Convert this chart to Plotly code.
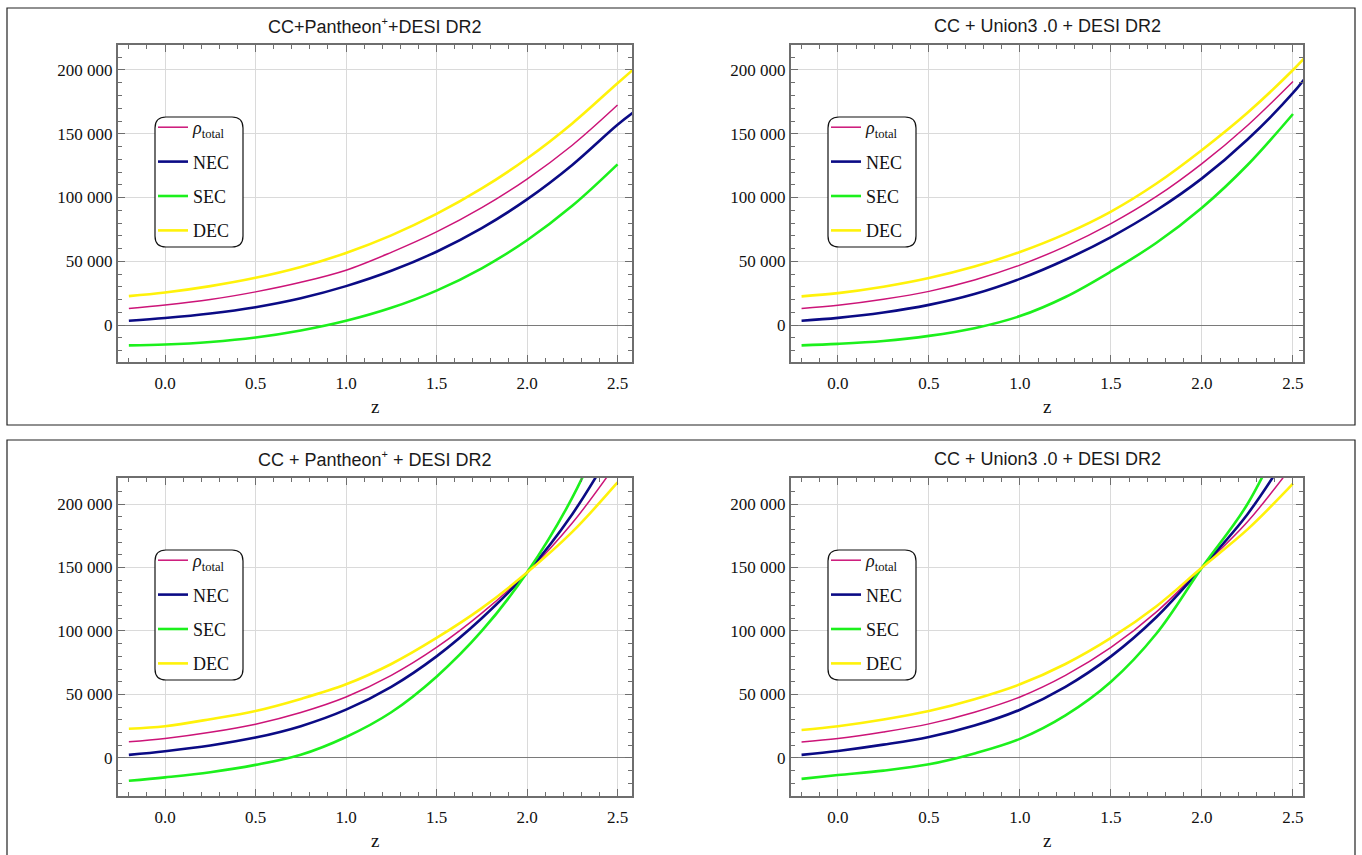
import plotly.graph_objects as go

W, H = 1362, 855

# ---------------- data ----------------
z_std = [-0.2, 0.0, 0.25, 0.5, 0.75, 1.0, 1.25, 1.5, 1.75, 2.0, 2.25, 2.5]
z_ext = [-0.2, 0.0, 0.25, 0.5, 0.75, 1.0, 1.25, 1.5, 1.75, 2.0, 2.25, 2.5, 2.6]

# Panel 1: CC+Pantheon+ +DESI DR2 (top)
p1_rho = [13000, 15700, 20000, 26000, 33500, 43000, 57000, 73000, 92000, 114500, 141000, 172500]
p1_nec = [3400, 5500, 9000, 14000, 21000, 30500, 42500, 57500, 76000, 98500, 125500, 157000, 168000]
p1_sec = [-16000, -15300, -13300, -9800, -4300, 3300, 13500, 27000, 44500, 66500, 93500, 126000]
p1_dec = [22700, 25500, 30500, 37000, 45500, 56500, 70300, 87100, 107100, 130600, 158100, 189600, 202000]

# Panel 2: CC + Union3.0 + DESI DR2 (top)
p2_rho = [13000, 15500, 20200, 26400, 35300, 47000, 61700, 79500, 100800, 126600, 156500, 191000]
p2_nec = [3400, 5600, 9800, 15800, 24300, 36200, 51200, 69000, 90000, 115000, 145500, 182000, 200000]
p2_sec = [-16000, -14800, -12500, -8500, -2500, 7000, 22000, 42000, 64500, 92000, 125500, 165500]
p2_dec = [22500, 25000, 30000, 36800, 45800, 57300, 71500, 89000, 111000, 137300, 166500, 200000, 215000]

# Panel 3: CC+Pantheon+ +DESI DR2 (bottom)
p3_rho = [12700, 15300, 20200, 26600, 35800, 48000, 65000, 87000, 114000, 146000, 185000, 233000]
p3_nec = [2400, 5300, 9800, 16000, 25000, 38000, 56000, 80000, 110000, 146000, 192000, 250000]
p3_sec = [-18000, -15300, -11300, -5500, 2500, 16500, 36000, 64000, 100000, 146000, 205000, 283000]
p3_dec = [23000, 25000, 30500, 37000, 46500, 58000, 74000, 94500, 118000, 146000, 178000, 217000]

# Panel 4: CC + Union3.0 + DESI DR2 (bottom)
p4_rho = [12600, 15300, 20400, 26800, 36000, 48000, 65000, 87000, 115000, 150000, 186000, 231000]
p4_nec = [2400, 5500, 10500, 16500, 25500, 38000, 56000, 80000, 111000, 150000, 192000, 246000]
p4_sec = [-16500, -13500, -10000, -5000, 3500, 15000, 33500, 60000, 98000, 150000, 200000, 272000]
p4_dec = [22000, 25000, 30300, 37000, 46300, 58000, 74000, 94500, 119500, 150000, 180000, 216000]

SUP = "<sup><span style='font-size:11px'>+</span></sup>"
titles = ["CC+Pantheon" + SUP + "+DESI DR2", "CC + Union3 .0 + DESI DR2",
          "CC + Pantheon" + SUP + " + DESI DR2", "CC + Union3 .0 + DESI DR2"]
names = ["<i>ρ</i><sub>total</sub>", "NEC", "SEC", "DEC"]
colors = ["#CC1478", "#0B0B85", "#1CF01C", "#FFF20A"]
widths = [1.5, 2.6, 2.6, 2.6]

y_tickvals = [0, 50000, 100000, 150000, 200000]
y_ticktext = ["0", "50 000", "100 000", "150 000", "200 000"]
x_tickvals = [0.0, 0.5, 1.0, 1.5, 2.0, 2.5]
x_ticktext = ["0.0", "0.5", "1.0", "1.5", "2.0", "2.5"]

panels = [
    [(z_std, p1_rho), (z_ext, p1_nec), (z_std, p1_sec), (z_ext, p1_dec)],
    [(z_std, p2_rho), (z_ext, p2_nec), (z_std, p2_sec), (z_ext, p2_dec)],
    [(z_std, p3_rho), (z_std, p3_nec), (z_std, p3_sec), (z_std, p3_dec)],
    [(z_std, p4_rho), (z_std, p4_nec), (z_std, p4_sec), (z_std, p4_dec)],
]

# ---------------- layout geometry (pixels) ----------------
frames = [(118, 632, 45, 362), (791, 1303, 45, 362),
          (118, 632, 478, 796), (791, 1303, 478, 796)]
xranges = [[-0.26, 2.58], [-0.258, 2.555], [-0.26, 2.58], [-0.258, 2.555]]
yranges = [[-29000, 219600], [-29000, 219600], [-30000, 220500], [-30000, 220500]]


def px(x):
    return x / W


def py(y):
    return 1 - y / H


fig = go.Figure()

frame_col = "#6E6E6E"
serif = "Liberation Serif"
sans = "Liberation Sans"

for i, series in enumerate(panels):
    k = i + 1
    xa = "x" if k == 1 else f"x{k}"
    ya = "y" if k == 1 else f"y{k}"
    lg = "legend" if k == 1 else f"legend{k}"
    for j, (zz, vv) in enumerate(series):
        fig.add_trace(go.Scatter(
            x=zz, y=vv, mode="lines", name=names[j],
            line=dict(color=colors[j], width=widths[j], shape="spline", smoothing=1.0),
            xaxis=xa, yaxis=ya, legend=lg, legendgroup=f"g{k}{j}",
            showlegend=True, hoverinfo="skip"))

    L, R, T, B = frames[i]
    axname_x = "xaxis" if k == 1 else f"xaxis{k}"
    axname_y = "yaxis" if k == 1 else f"yaxis{k}"
    fig.layout[axname_x] = dict(
        domain=[px(L), px(R)], range=xranges[i], anchor=ya,
        showline=True, linecolor=frame_col, linewidth=2, mirror="allticks",
        ticks="inside", ticklen=7, tickwidth=1, tickcolor=frame_col,
        tickvals=x_tickvals, ticktext=x_ticktext, ticklabelstandoff=5,
        minor=dict(ticks="inside", ticklen=4, dtick=0.1, tick0=0, tickcolor=frame_col, showgrid=False),
        showgrid=True, gridcolor="#DADADA", gridwidth=1, zeroline=False,
        tickfont=dict(family=serif, size=17, color="#111"),
        fixedrange=True)
    fig.layout[axname_y] = dict(
        domain=[py(B), py(T)], range=yranges[i], anchor=xa,
        showline=True, linecolor=frame_col, linewidth=2, mirror="allticks",
        ticks="inside", ticklen=7, tickwidth=1, tickcolor=frame_col,
        tickvals=y_tickvals, ticktext=y_ticktext,
        minor=dict(ticks="inside", ticklen=4, dtick=10000, tick0=0, tickcolor=frame_col, showgrid=False),
        showgrid=True, gridcolor="#DADADA", gridwidth=1,
        zeroline=True, zerolinecolor="#7A7A7A", zerolinewidth=1,
        tickfont=dict(family=serif, size=17, color="#111"),
        fixedrange=True)

    # title
    fig.add_annotation(x=px((L + R) / 2), y=py(T - 19), xref="paper", yref="paper",
                       text=titles[i], showarrow=False,
                       font=dict(family=sans, size=18, color="#1a1a1a"),
                       xanchor="center", yanchor="middle")
    # axis label
    fig.add_annotation(x=px((L + R) / 2), y=py(B + 44), xref="paper", yref="paper",
                       text="z", showarrow=False,
                       font=dict(family=serif, size=19, color="#111"),
                       xanchor="center", yanchor="middle")

    # legend
    fig.layout[lg] = dict(
        x=px(L + 35), y=py(T + 64), xanchor="left", yanchor="top",
        bgcolor="rgba(0,0,0,0)", borderwidth=0,
        font=dict(family=serif, size=18, color="#111"),
        itemwidth=30, traceorder="grouped", tracegroupgap=8,
        itemclick=False, itemdoubleclick=False)

    # rounded legend box
    bx0, bx1 = L + 37, L + 125
    by0, by1 = T + 72, T + 202
    r = 11
    path = (f"M {px(bx0 + r)},{py(by0)} L {px(bx1 - r)},{py(by0)} "
            f"Q {px(bx1)},{py(by0)} {px(bx1)},{py(by0 + r)} "
            f"L {px(bx1)},{py(by1 - r)} Q {px(bx1)},{py(by1)} {px(bx1 - r)},{py(by1)} "
            f"L {px(bx0 + r)},{py(by1)} Q {px(bx0)},{py(by1)} {px(bx0)},{py(by1 - r)} "
            f"L {px(bx0)},{py(by0 + r)} Q {px(bx0)},{py(by0)} {px(bx0 + r)},{py(by0)} Z")
    fig.add_shape(type="path", path=path, xref="paper", yref="paper",
                  line=dict(color="#111", width=1.2), fillcolor="white", layer="above")

# outer boxes
fig.add_shape(type="rect", xref="paper", yref="paper",
              x0=px(7), x1=px(1355), y0=py(425), y1=py(8),
              line=dict(color="#222", width=1.2), layer="below")
fig.add_shape(type="rect", xref="paper", yref="paper",
              x0=px(7), x1=px(1355), y0=py(862), y1=py(440),
              line=dict(color="#222", width=1.2), layer="below")

fig.update_layout(
    width=W, height=H, margin=dict(l=0, r=0, t=0, b=0),
    paper_bgcolor="white", plot_bgcolor="white",
    showlegend=True,
)

fig.write_html("out.html", config={"displayModeBar": False},
               post_script="document.body.style.margin='0px';document.body.style.padding='0px';")
